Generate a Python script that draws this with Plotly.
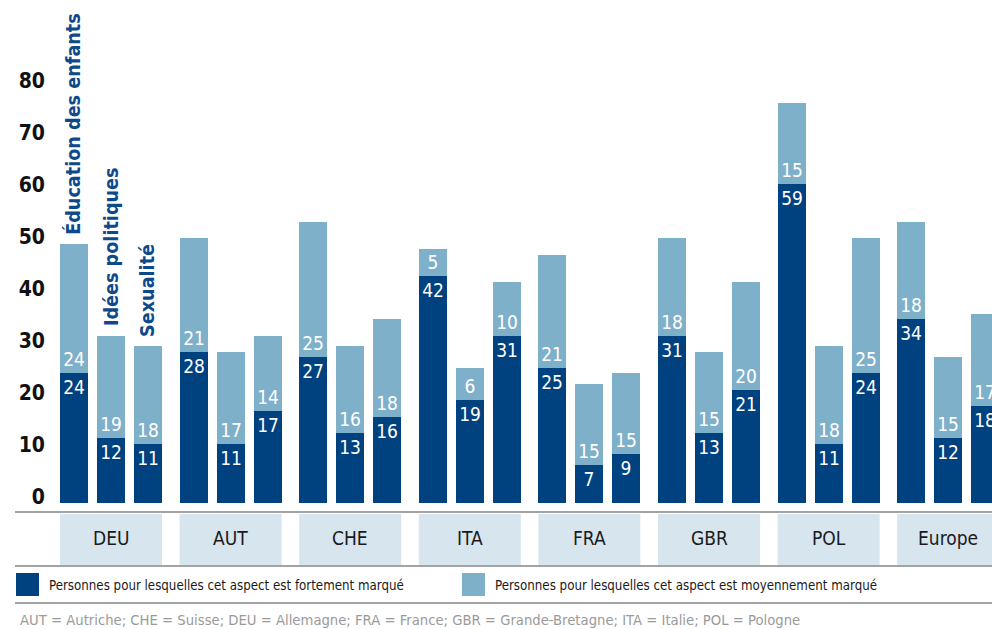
import plotly.graph_objects as go

# ---------------- data ----------------
countries = ["DEU", "AUT", "CHE", "ITA", "FRA", "GBR", "POL", "Europe"]
aspects = ["Éducation des enfants", "Idées politiques", "Sexualité"]

edu_strong = [24, 28, 27, 42, 25, 31, 59, 34]
edu_moderate = [24, 21, 25, 5, 21, 18, 15, 18]
pol_strong = [12, 11, 13, 19, 7, 13, 11, 12]
pol_moderate = [19, 17, 16, 6, 15, 15, 18, 15]
sex_strong = [11, 17, 16, 31, 9, 21, 24, 18]
sex_moderate = [18, 14, 18, 10, 15, 20, 25, 17]

y_ticks = [0, 10, 20, 30, 40, 50, 60, 70, 80]

legend_strong = "Personnes pour lesquelles cet aspect est fortement marqué"
legend_moderate = "Personnes pour lesquelles cet aspect est moyennement marqué"
footnote = ("AUT = Autriche; CHE = Suisse; DEU = Allemagne; FRA = France; "
            "GBR = Grande-Bretagne; ITA = Italie; POL = Pologne")

# ---------------- style ----------------
DARK = "#00427f"
LIGHT = "#7fb0c9"
BOX = "#d7e5ef"
LINE = "#a3a3a3"
LABEL_BLUE = "#0e4a8a"
FONT = "DejaVu Sans Condensed, Liberation Sans Narrow, Roboto, sans-serif"

W_FIG, H_FIG = 992, 629
L, R, T, B = 52, 992, 60, 503          # plot area in pixels
PW, PH = R - L, B - T
PX_PER_UNIT = 5.4                      # bar scale
GROUP_PX = 119.6                       # group spacing (px)
CENTER0 = 111                          # pixel centre of first group
BAR_STEP = 37 / GROUP_PX
BAR_W = 28 / GROUP_PX


def xu(p):
    return (p - CENTER0) / GROUP_PX


def px_x(p):
    return (p - L) / PW


def px_y(p):
    return (B - p) / PH


strong_by_aspect = [edu_strong, pol_strong, sex_strong]
moderate_by_aspect = [edu_moderate, pol_moderate, sex_moderate]

xs, s_vals, m_vals = [], [], []
for i, c in enumerate(countries):
    for j in range(3):
        xs.append(i + (j - 1) * BAR_STEP)
        s_vals.append(strong_by_aspect[j][i])
        m_vals.append(moderate_by_aspect[j][i])

fig = go.Figure()
fig.add_bar(x=xs, y=s_vals, width=BAR_W, marker=dict(color=DARK, line=dict(width=0)),
            text=[str(v) for v in s_vals], textposition="inside",
            insidetextanchor="end", textangle=0,
            textfont=dict(color="white", size=19, family=FONT),
            name=legend_strong, showlegend=False, hoverinfo="skip")
fig.add_bar(x=xs, y=m_vals, width=BAR_W, marker=dict(color=LIGHT, line=dict(width=0)),
            text=[str(v) for v in m_vals], textposition="inside",
            insidetextanchor="start", textangle=0,
            textfont=dict(color="white", size=19, family=FONT),
            name=legend_moderate, showlegend=False, hoverinfo="skip")
# empty helper trace so that the tick-label axis (y2) is drawn
fig.add_scatter(x=[None], y=[None], yaxis="y2", showlegend=False,
                hoverinfo="skip", mode="markers")

shapes = []
annotations = []

# horizontal gray lines
for yp in (512, 566, 603):
    shapes.append(dict(type="line", xref="paper", yref="paper",
                       x0=px_x(15), x1=px_x(992), y0=px_y(yp), y1=px_y(yp),
                       line=dict(color=LINE, width=2)))

# category boxes + labels
half = 51 / GROUP_PX
for i, c in enumerate(countries):
    shapes.append(dict(type="rect", xref="x", yref="paper",
                       x0=i - half, x1=i + half, y0=px_y(565), y1=px_y(514),
                       fillcolor=BOX, line=dict(width=0), layer="below"))
    annotations.append(dict(x=i, y=px_y(538), xref="x", yref="paper", text=c,
                            showarrow=False, xanchor="center", yanchor="middle",
                            font=dict(size=19, color="#1a1a1a", family=FONT)))

# vertical aspect labels above first group
for j, a in enumerate(aspects):
    total = strong_by_aspect[j][0] + moderate_by_aspect[j][0]
    annotations.append(dict(x=(j - 1) * BAR_STEP, y=total, xref="x", yref="y",
                            text="<b>" + a + "</b>", textangle=-90, showarrow=False,
                            xanchor="center", yanchor="bottom", yshift=7,
                            font=dict(size=19.6, color=LABEL_BLUE, family=FONT)))

# legend
for x0, col, txt in ((16, DARK, legend_strong), (462, LIGHT, legend_moderate)):
    shapes.append(dict(type="rect", xref="paper", yref="paper",
                       x0=px_x(x0), x1=px_x(x0 + 23), y0=px_y(596), y1=px_y(573),
                       fillcolor=col, line=dict(width=0)))
    annotations.append(dict(x=px_x(x0 + 31), y=px_y(585), xref="paper", yref="paper",
                            text=txt, showarrow=False, xanchor="left", yanchor="middle",
                            font=dict(size=13.2, color="#1a1a1a", family=FONT)))

# footnote
annotations.append(dict(x=px_x(18), y=px_y(619), xref="paper", yref="paper",
                        text=footnote, showarrow=False, xanchor="left", yanchor="middle",
                        font=dict(size=14.7, color="#9a9a9a", family=FONT)))

fig.update_layout(
    width=W_FIG, height=H_FIG,
    margin=dict(l=L, r=W_FIG - R, t=T, b=H_FIG - B, autoexpand=False),
    barmode="stack", bargap=0,
    plot_bgcolor="white", paper_bgcolor="white",
    showlegend=False,
    uniformtext=dict(minsize=19, mode="show"),
    xaxis=dict(range=[xu(L), xu(R)], showgrid=False, zeroline=False,
               showticklabels=False, showline=False, fixedrange=True),
    yaxis=dict(range=[0, PH / PX_PER_UNIT], showgrid=False, zeroline=False,
               showticklabels=False, showline=False, fixedrange=True),
    yaxis2=dict(overlaying="y", side="left",
                range=[(497 - B) / 5.21, (497 - T) / 5.21],
                tickvals=y_ticks, ticktext=[str(v) for v in y_ticks],
                showgrid=False, zeroline=False, showline=False, ticks="",
                ticklabelstandoff=6, fixedrange=True,
                tickfont=dict(size=21, color="#111111", family=FONT, weight="bold")),
    shapes=shapes, annotations=annotations,
    font=dict(family=FONT),
)

fig.write_html("out.html", config={"displayModeBar": False},
               post_script="document.body.style.margin='0';document.body.style.padding='0';")
